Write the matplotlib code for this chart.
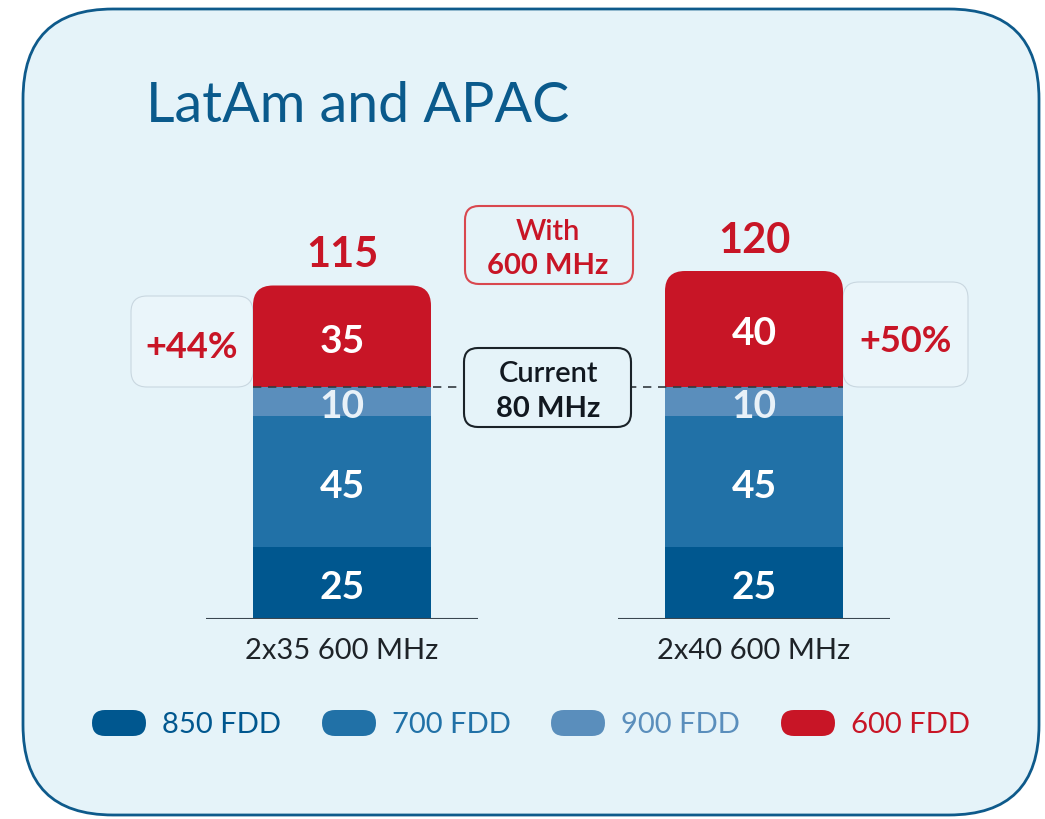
from matplotlib import pyplot as plt
from matplotlib.patches import FancyBboxPatch
import numpy as np

# chart data
categories = ["2x35 600 MHz", "2x40 600 MHz"]
series_names = ["850 FDD", "700 FDD", "900 FDD", "600 FDD"]
band_850 = [25, 25]
band_700 = [45, 45]
band_900 = [10, 10]
band_600 = [35, 40]
totals = [115, 120]
uplift = ["+44%", "+50%"]
current_total = 80

colors = ["#00578F", "#2171A7", "#5A8EBC", "#C81526"]
label_colors = ["white", "white", "#E8F1F8", "white"]
bg_color = "#E5F3F9"
frame_color = "#0E5A8B"
red = "#C81526"

plt.rcParams['font.family'] = ['Lato', 'DejaVu Sans']

fig = plt.figure(figsize=(10.45, 8.19), dpi=100)

# background axes in pixel units
bg = fig.add_axes([0, 0, 1, 1])
bg.set_xlim(0, 1045)
bg.set_ylim(819, 0)
bg.axis("off")
bg.add_patch(FancyBboxPatch((23, 9), 1016, 806, boxstyle="round,pad=0,rounding_size=90",
                            fc=bg_color, ec=frame_color, lw=2))
bg.text(146, 107, "LatAm and APAC", fontsize=40, color="#0A5A8C", va="center", ha="left")

# legend pills
leg_x = [92, 322, 551, 781]
for i, name in enumerate(series_names):
    bg.add_patch(FancyBboxPatch((leg_x[i], 710), 54, 26, boxstyle="round,pad=0,rounding_size=13",
                                fc=colors[i], ec="none"))
    bg.text(leg_x[i] + 70, 725, name, fontsize=21, color=colors[i], va="center", ha="left")

# annotation box "With 600 MHz"
bg.add_patch(FancyBboxPatch((465, 206), 168, 78, boxstyle="round,pad=0,rounding_size=14",
                            fc=bg_color, ec="#D9474F", lw=1.5, zorder=3))
bg.text(548, 232, "With", fontsize=21, color=red, ha="center", va="center", fontweight="semibold", zorder=4)
bg.text(548, 266, "600 MHz", fontsize=21, color=red, ha="center", va="center", fontweight="bold", zorder=4)

# uplift boxes
ub = [(131, 296, 122, 91), (843, 282, 125, 105)]
for bx, by, bw, bh in ub:
    bg.add_patch(FancyBboxPatch((bx, by), bw, bh, boxstyle="round,pad=0,rounding_size=16",
                                fc="#EAF5FA", ec="#C9D7E0", lw=0.8, zorder=1))
bg.text(192, 347, uplift[0], color=red, fontsize=26, fontweight="bold", ha="center", va="center", zorder=4)
bg.text(906, 342, uplift[1], color=red, fontsize=26, fontweight="bold", ha="center", va="center", zorder=4)

# bar axes in data units
pxu = 2.9
base_px = 619
gap = 412
ax = fig.add_axes([33 / 1045, (819 - base_px) / 819, 1030 / 1045, 130 * pxu / 819])
ax.set_xlim(-0.75, 1.75)
ax.set_ylim(0, 130)
ax.axis("off")
ax.patch.set_alpha(0)

x = np.arange(len(categories))
w = 178 / gap
bottom = np.zeros(len(categories))
for vals, c, lc in zip([band_850, band_700, band_900], colors[:3], label_colors[:3]):
    ax.bar(x, vals, w, bottom=bottom, color=c, zorder=2)
    for xi, v, b in zip(x, vals, bottom):
        ax.text(xi, b + v / 2 - 1.7, str(v), color=lc, fontsize=28, fontweight="bold",
                ha="center", va="center", zorder=5)
    bottom = bottom + np.array(vals)

# red segments with rounded top corners
rx = 20 / gap
ry = 20 / pxu
for xi, v, b in zip(x, band_600, bottom):
    ax.add_patch(FancyBboxPatch((xi - w / 2, b), w, v, boxstyle=f"round,pad=0,rounding_size={rx}",
                                mutation_aspect=ry / rx, fc=colors[3], ec="none", zorder=2))
    ax.bar(xi, v / 2, w, bottom=b, color=colors[3], zorder=2)
    ax.text(xi, b + v / 2 - 1.7, str(v), color="white", fontsize=28, fontweight="bold",
            ha="center", va="center", zorder=5)

# totals on top
for xi, t, v, b in zip(x, totals, band_600, bottom):
    ax.text(xi, b + v + 10.5, str(t), color=red, fontsize=30, fontweight="bold",
            ha="center", va="center", zorder=5)

# baselines and category labels
for xi in x:
    ax.plot([xi - 0.33, xi + 0.33], [0, 0], color="#3A4650", lw=1.5, zorder=3, solid_capstyle="butt")
    ax.text(xi, -11, categories[xi], fontsize=21, color="#1E2328", ha="center", va="center")

# current 80 MHz dashed line
ax.plot([x[0] - w / 2, x[1] + w / 2], [current_total, current_total], color="#333A40",
        lw=1.2, ls=(0, (5, 4)), zorder=3)

# current box on top of dashed line
cr = 14
ax.add_patch(FancyBboxPatch((0.5 - 84 / gap, current_total - 40 / pxu), 167 / gap, 79 / pxu,
                            boxstyle=f"round,pad=0,rounding_size={cr / gap}",
                            mutation_aspect=(cr / pxu) / (cr / gap),
                            fc=bg_color, ec="#1A2228", lw=1.5, zorder=4))
ax.text(0.5, current_total + 4.5, "Current", fontsize=21, color="#111820", ha="center", va="center",
        fontweight="semibold", zorder=5)
ax.text(0.5, current_total - 7.5, "80 MHz", fontsize=21, color="#111820", ha="center", va="center",
        fontweight="bold", zorder=5)

plt.savefig("out.png", dpi=100)
